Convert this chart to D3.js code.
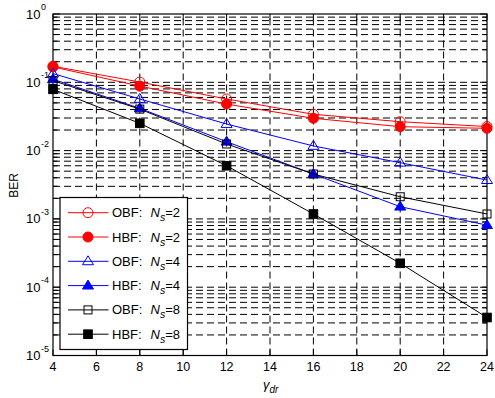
<!DOCTYPE html>
<html><head><meta charset="utf-8">
<script src="https://cdn.jsdelivr.net/npm/d3@7"></script>
<style>body{margin:0;background:#fff}svg{display:block}text{font-family:"Liberation Sans",Arial,Helvetica,sans-serif}</style>
</head><body>
<svg id="c" width="495" height="398"></svg>
<script>
const xValues = [4, 8, 12, 16, 20, 24];
const obf2 = [0.172, 0.101, 0.057, 0.034, 0.0265, 0.0225];
const hbf2 = [0.168, 0.088, 0.048, 0.0297, 0.0224, 0.0212];
const obf4 = [0.134, 0.057, 0.0245, 0.0117, 0.00665, 0.0037];
const hbf4 = [0.111, 0.0416, 0.0135, 0.00454, 0.00151, 0.00081];
const obf8 = [0.106, 0.0405, 0.0125, 0.00454, 0.00211, 0.00118];
const hbf8 = [0.079, 0.0251, 0.0060, 0.00118, 0.000224, 0.000036];
const xTicks = [4, 6, 8, 10, 12, 14, 16, 18, 20, 22, 24];
const yExponents = [0, -1, -2, -3, -4, -5];

const series = [
  {name:"OBF:", ns:"2", values:obf2, color:"#ff0000", marker:"circle", filled:false},
  {name:"HBF:", ns:"2", values:hbf2, color:"#ff0000", marker:"circle", filled:true},
  {name:"OBF:", ns:"4", values:obf4, color:"#0000ff", marker:"triangle", filled:false},
  {name:"HBF:", ns:"4", values:hbf4, color:"#0000ff", marker:"triangle", filled:true},
  {name:"OBF:", ns:"8", values:obf8, color:"#000000", marker:"square", filled:false},
  {name:"HBF:", ns:"8", values:hbf8, color:"#000000", marker:"square", filled:true}
];

const L = 53, R = 487, T = 14, B = 355.5;
const svg = d3.select("#c");
const x = d3.scaleLinear().domain([4, 24]).range([L, R]);
const y = d3.scaleLog().domain([1e-5, 1]).range([B, T]);

const yGrid = [];
for (let e = -5; e < 0; e++) for (let m = 1; m <= 9; m++) yGrid.push(m * Math.pow(10, e));
yGrid.push(1);

const g = svg.append("g");
g.selectAll("line.hg").data(yGrid.filter(v => v > 1e-5 && v < 1)).enter().append("line")
  .attr("x1", L).attr("x2", R).attr("y1", d => y(d)).attr("y2", d => y(d))
  .attr("stroke", "#000").attr("stroke-width", 1).attr("stroke-dasharray", "7,4");
g.selectAll("line.vg").data(xTicks.filter(v => v > 4 && v < 24)).enter().append("line")
  .attr("y1", B).attr("y2", T).attr("x1", d => x(d)).attr("x2", d => x(d))
  .attr("stroke", "#000").attr("stroke-width", 1).attr("stroke-dasharray", "7,4");

yGrid.forEach(v => {
  const major = Math.abs(Math.log10(v) - Math.round(Math.log10(v))) < 1e-9;
  const len = major ? 7 : 4.5;
  g.append("line").attr("x1", L).attr("x2", L + len).attr("y1", y(v)).attr("y2", y(v)).attr("stroke", "#000");
  g.append("line").attr("x1", R).attr("x2", R - len).attr("y1", y(v)).attr("y2", y(v)).attr("stroke", "#000");
});
xTicks.forEach(v => {
  g.append("line").attr("x1", x(v)).attr("x2", x(v)).attr("y1", B).attr("y2", B - 6).attr("stroke", "#000");
  g.append("line").attr("x1", x(v)).attr("x2", x(v)).attr("y1", T).attr("y2", T + 6).attr("stroke", "#000");
});

g.append("rect").attr("x", L).attr("y", T).attr("width", R - L).attr("height", B - T)
  .attr("fill", "none").attr("stroke", "#000").attr("stroke-width", 1.2);

svg.selectAll("text.xt").data(xTicks).enter().append("text")
  .attr("x", d => x(d)).attr("y", 370.5).attr("text-anchor", "middle")
  .attr("font-size", 12.5).text(d => d);
yExponents.forEach(e => {
  svg.append("text").attr("x", 40.5).attr("y", y(Math.pow(10, e)) + 4.5)
    .attr("text-anchor", "end").attr("font-size", 13).text("10");
  svg.append("text").attr("x", 41).attr("y", y(Math.pow(10, e)) - 4)
    .attr("text-anchor", "start").attr("font-size", 9).text(e === 0 ? "0" : "-" + (-e));
});

svg.append("text").attr("transform", "translate(17.5,185.5) rotate(-90)")
  .attr("text-anchor", "middle").attr("font-size", 12).text("BER");
const xl = svg.append("text").attr("x", 263).attr("y", 389).attr("font-size", 13).attr("font-style", "italic");
xl.append("tspan").text("γ");
xl.append("tspan").attr("dy", 4).attr("font-size", 10).text("dr");

function drawMarker(sel, s, cx, cy) {
  const fill = s.filled ? s.color : "none";
  if (s.marker === "circle") {
    sel.append("circle").attr("cx", cx).attr("cy", cy).attr("r", 5)
      .attr("fill", fill).attr("stroke", s.color).attr("stroke-width", 1);
  } else if (s.marker === "triangle") {
    const h = 5.5;
    sel.append("path").attr("d", `M${cx},${cy - h} L${cx + h},${cy + h * 0.62} L${cx - h},${cy + h * 0.62} Z`)
      .attr("fill", fill).attr("stroke", s.color).attr("stroke-width", 1);
  } else {
    const a = s.filled ? 4.3 : 4;
    sel.append("rect").attr("x", cx - a).attr("y", cy - a).attr("width", 2 * a).attr("height", 2 * a)
      .attr("fill", fill).attr("stroke", s.color).attr("stroke-width", 1);
  }
}

const line = d3.line().x((d, i) => x(xValues[i])).y(d => y(d));
const plot = svg.append("g");
series.forEach(s => {
  plot.append("path").attr("d", line(s.values)).attr("fill", "none")
    .attr("stroke", s.color).attr("stroke-width", 1);
  s.values.forEach((v, i) => drawMarker(plot, s, x(xValues[i]), y(v)));
});

const lg = svg.append("g");
lg.append("rect").attr("x", 60).attr("y", 197.5).attr("width", 127.5).attr("height", 152)
  .attr("fill", "#fff").attr("stroke", "#000").attr("stroke-width", 1.2);
series.forEach((s, i) => {
  const cy = 212.7 + i * 24.3;
  lg.append("line").attr("x1", 68).attr("x2", 108.5).attr("y1", cy).attr("y2", cy)
    .attr("stroke", s.color).attr("stroke-width", 1);
  drawMarker(lg, s, 88, cy);
  lg.append("text").attr("x", 112).attr("y", cy + 4.5).attr("font-size", 13).text(s.name);
  const t = lg.append("text").attr("x", 150.5).attr("y", cy + 4.5).attr("font-size", 13);
  t.append("tspan").attr("font-style", "italic").text("N");
  t.append("tspan").attr("font-style", "italic").attr("dy", 4).attr("font-size", 10.5).text("s");
  t.append("tspan").attr("dy", -4).text("=" + s.ns);
});
</script>
</body></html>
